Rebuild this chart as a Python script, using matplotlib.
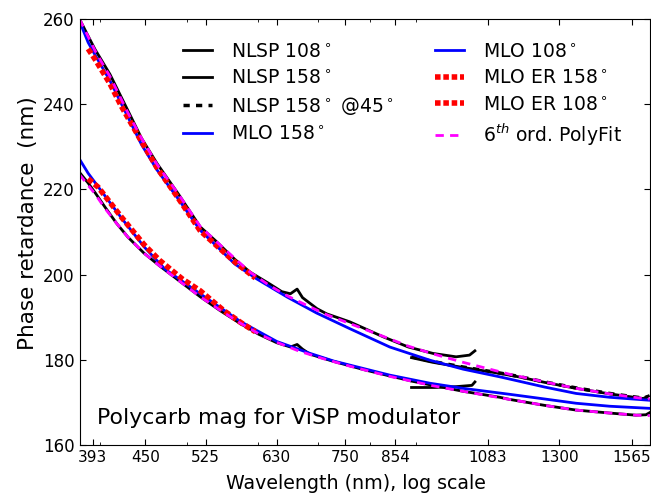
import matplotlib
matplotlib.use('Agg')
import matplotlib.pyplot as plt
from matplotlib.ticker import NullFormatter

# ---- data (wavelength nm, retardance nm) ----
# NLSP 158 deg, visible spectrometer
nlsp158_vis_wl = [380, 388.5, 395.6, 410.9, 430.2, 445.5, 463.8, 489.3, 517.8, 538.2, 565.7,
                  588.2, 618.8, 638.2, 652.5, 663.8, 673.0, 698.5, 715.9, 759.9, 827.5, 882.8,
                  940.2, 997.7, 1032.6, 1046.9]
nlsp158_vis = [260.0, 256.0, 252.8, 247.0, 238.5, 232.0, 226.0, 219.0, 211.2, 208.0, 203.6,
               200.6, 197.8, 196.0, 195.5, 196.6, 194.6, 192.0, 190.8, 188.9, 185.4, 183.0,
               181.5, 180.7, 181.1, 182.1]
# NLSP 158 deg, IR spectrometer
nlsp158_ir_wl = [890, 940, 1016, 1116, 1171, 1252, 1357, 1479, 1612, 1633]
nlsp158_ir = [180.5, 179.4, 178.2, 176.8, 176.0, 174.7, 173.3, 172.0, 170.9, 171.5]
# NLSP 158 deg @45 (lies on the IR curve)
nlsp158_45_wl = [890, 940, 1016, 1116, 1171, 1252, 1357, 1479, 1612, 1633]
nlsp158_45 = [180.7, 179.6, 178.3, 176.9, 176.1, 174.8, 173.4, 172.1, 171.0, 171.4]

# NLSP 108 deg
nlsp108_vis_wl = [380, 388.5, 395.6, 405.8, 418, 430.2, 448.5, 466.9, 494.4, 517.8, 545.3,
                  573.9, 601.5, 630.1, 652.5, 663.8, 673, 686.3, 729.2, 790.6, 841.8, 882.8]
nlsp108_vis = [224.0, 221.5, 219.2, 215.8, 212.0, 208.8, 205.0, 202.0, 198.0, 194.8, 191.5,
               188.5, 186.0, 184.0, 183.0, 183.6, 182.5, 181.3, 179.6, 177.6, 176.2, 175.2]
nlsp108_tail_wl = [890, 944, 998, 1039, 1047]
nlsp108_tail = [173.5, 173.5, 173.7, 174.0, 174.8]
nlsp108_ir_wl = [890, 940, 1016, 1116, 1144.5, 1252, 1357, 1479, 1582, 1623, 1639]
nlsp108_ir = [175.0, 174.0, 172.6, 171.2, 170.7, 169.3, 168.2, 167.5, 167.0, 167.1, 167.6]

# MLO 158 / 108 deg
mlo158_wl = [380, 388.5, 395.6, 410.9, 430.2, 445.5, 463.8, 489.3, 517.8, 538.2, 565.7,
             598.4, 647.4, 697.5, 759.9, 841.8, 933, 1016, 1116, 1171, 1252, 1357, 1479, 1639]
mlo158 = [259.5, 254.5, 251.5, 245.5, 237.0, 230.5, 224.5, 217.8, 210.4, 207.0, 202.5,
          199.0, 194.7, 191.0, 187.3, 183.0, 179.9, 177.8, 176.0, 175.0, 173.6, 172.1,
          171.2, 170.5]
mlo108_wl = [380, 388.5, 398.7, 423.1, 448.5, 473, 517.8, 573.9, 630.1, 686.3, 729.2,
             841.8, 933, 1016, 1144.5, 1252, 1357, 1479, 1639]
mlo108 = [227.1, 223.8, 220.6, 213.3, 206.5, 201.3, 195.5, 189.0, 184.3, 181.5, 179.7,
          176.4, 174.5, 173.3, 171.9, 170.8, 169.8, 169.1, 168.6]

# MLO ER 158 / 108 deg
mloer158_wl = [388.5, 395.6, 410.9, 423.1, 443.4, 463.8, 489.3, 517.8, 545.3, 565.7, 596.4]
mloer158 = [253.0, 250.5, 244.8, 239.5, 232.0, 225.0, 218.0, 210.3, 206.0, 203.0, 199.2]
mloer108_wl = [388.5, 398.7, 423.1, 448.5, 466.9, 494.4, 517.8, 550.4, 575.9, 596.4]
mloer108 = [222.5, 220.5, 213.5, 207.0, 203.3, 199.0, 196.2, 191.5, 188.6, 186.6]

# 6th order polynomial fits
fit158_wl = [380, 395.6, 410.9, 430.2, 445.5, 463.8, 489.3, 517.8, 538.2, 565.7, 588.2,
             618.8, 647.4, 680.1, 715.9, 759.9, 827.5, 882.8, 940.2, 1016, 1116, 1144.5,
             1252, 1357, 1479, 1612, 1639]
fit158 = [260.0, 252.5, 246.5, 238.0, 232.0, 225.8, 219.0, 211.3, 208.0, 203.8, 200.6,
          197.4, 195.0, 192.8, 190.6, 188.5, 185.5, 183.2, 181.4, 179.4, 177.2, 176.6,
          174.8, 173.3, 172.0, 170.9, 170.8]
fit108_wl = [380, 395.6, 405.8, 418, 430.2, 448.5, 466.9, 494.4, 517.8, 545.3, 573.9,
             601.5, 630.1, 667.9, 708.8, 759.9, 841.8, 940.2, 1016, 1144.5, 1252, 1357,
             1479, 1582, 1639]
fit108 = [223.5, 218.9, 215.5, 212.0, 208.8, 205.0, 202.0, 198.0, 194.8, 191.6, 188.6,
          186.1, 184.1, 182.0, 180.3, 178.5, 176.1, 173.9, 172.6, 170.7, 169.3, 168.2,
          167.5, 167.0, 166.9]

xtick_vals = [393, 450, 525, 630, 750, 854, 1083, 1300, 1565]

plt.rcParams['xtick.direction'] = 'in'
plt.rcParams['ytick.direction'] = 'in'
plt.rcParams['xtick.top'] = True
plt.rcParams['ytick.right'] = True
plt.rcParams['lines.scale_dashes'] = False

fig = plt.figure(figsize=(6.51, 4.95), dpi=100)
ax = fig.add_axes([79.5/651., 50/495., 570.5/651., 426/495.])

ax.plot(nlsp158_vis_wl, nlsp158_vis, color='k', lw=2, label='NLSP 108$^\\circ$')
ax.plot(nlsp158_ir_wl, nlsp158_ir, color='k', lw=2, label='NLSP 158$^\\circ$')
ax.plot(nlsp158_45_wl, nlsp158_45, color='k', lw=2.5, dashes=(4.5, 4.5),
        label='NLSP 158$^\\circ$ @45$^\\circ$')
ax.plot(nlsp108_vis_wl, nlsp108_vis, color='k', lw=2)
ax.plot(nlsp108_tail_wl, nlsp108_tail, color='k', lw=2)
ax.plot(nlsp108_ir_wl, nlsp108_ir, color='k', lw=2)
ax.plot(mlo158_wl, mlo158, color='b', lw=2, label='MLO 158$^\\circ$')
ax.plot(mlo108_wl, mlo108, color='b', lw=2, label='MLO 108$^\\circ$')
ax.plot(mloer158_wl, mloer158, color='r', lw=4, dashes=(4, 2), label='MLO ER 158$^\\circ$')
ax.plot(mloer108_wl, mloer108, color='r', lw=4, dashes=(4, 2), label='MLO ER 108$^\\circ$')
ax.plot(fit158_wl, fit158, color='magenta', lw=2, dashes=(6, 4.5),
        label='6$^{th}$ ord. PolyFit')
ax.plot(fit108_wl, fit108, color='magenta', lw=2, dashes=(6, 4.5))

ax.set_xscale('log')
ax.set_xlim(380, 1640)
ax.set_ylim(160, 260)
ax.set_xticks(xtick_vals)
ax.set_xticklabels([str(v) for v in xtick_vals])
ax.xaxis.set_minor_formatter(NullFormatter())
ax.set_yticks([160, 180, 200, 220, 240, 260])
ax.tick_params(axis='x', labelsize=11)
ax.tick_params(axis='y', labelsize=12)
ax.tick_params(length=4)
ax.tick_params(which='minor', length=2)

ax.set_xlabel('Wavelength (nm), log scale', fontsize=13.7)
ax.set_ylabel('Phase retardance  (nm)', fontsize=15.5)
ax.xaxis.set_label_coords(0.485, -0.067)
ax.yaxis.set_label_coords(-0.073, 0.522)
ax.text(0.031, 0.05, 'Polycarb mag for ViSP modulator', fontsize=15.8,
        transform=ax.transAxes)

ax.legend(ncol=2, frameon=False, fontsize=13.5, loc='upper left',
          bbox_to_anchor=(0.168, 0.964), borderaxespad=0, handlelength=1.55,
          handletextpad=1.0, columnspacing=2.2, labelspacing=0.4)

plt.savefig('out.png')
